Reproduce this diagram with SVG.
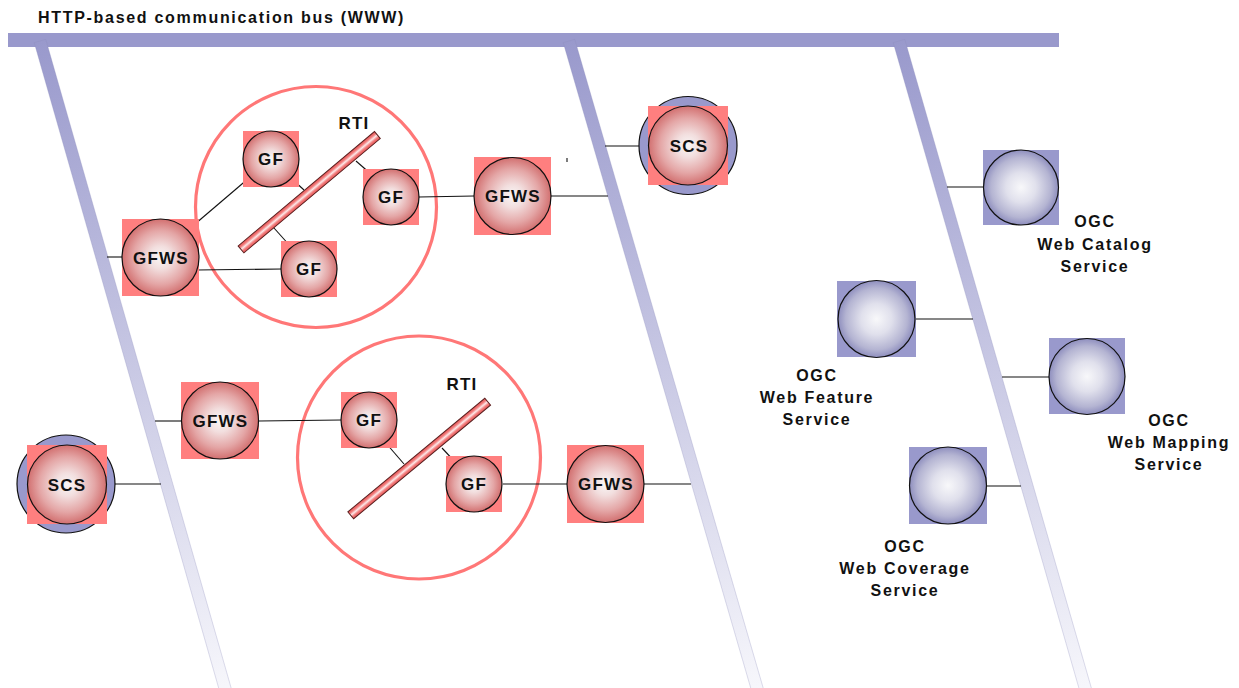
<svg xmlns="http://www.w3.org/2000/svg" width="1239" height="688" viewBox="0 0 1239 688">
  <defs>
    <style>
      text { font-family: "Liberation Sans", Arial, sans-serif; font-weight: bold; fill: #111; }
      .title { font-size: 16px; letter-spacing: 1.7px; }
      .lbl { font-size: 17px; letter-spacing: 1.2px; text-anchor: middle; }
      .cap { font-size: 16px; letter-spacing: 1.7px; text-anchor: middle; }
      .sq-red { fill: #ff7f7f; }
      .sq-blue { fill: #9999cc; }
      .ball-red { fill: url(#gRed); stroke: #111; stroke-width: 1.2; }
      .ball-blue { fill: url(#gBlue); stroke: #111; stroke-width: 1.2; }
      .halo { fill: #9999cc; stroke: #111; stroke-width: 1.2; }
      .fed { fill: none; stroke: #ff7777; stroke-width: 3.2; }
      .rti { fill: url(#gBar); stroke: #5a2020; stroke-width: 1; }
      .bus { fill: #9999cc; }
      .drop { fill: url(#gDrop); stroke: #8a8abb; stroke-opacity: 0.45; stroke-width: 0.6; }
      .wire { stroke: #111; stroke-width: 1.1; fill: none; }
    </style>
    <radialGradient id="gRed" cx="0.5" cy="0.5" r="0.5">
      <stop offset="0" stop-color="#f9f7f7"/>
      <stop offset="0.3" stop-color="#f2dede"/>
      <stop offset="0.7" stop-color="#e4a6a6"/>
      <stop offset="1" stop-color="#d27070"/>
    </radialGradient>
    <radialGradient id="gBlue" cx="0.5" cy="0.5" r="0.5">
      <stop offset="0" stop-color="#f8f8fa"/>
      <stop offset="0.4" stop-color="#e0e0ec"/>
      <stop offset="0.8" stop-color="#b4b4d2"/>
      <stop offset="1" stop-color="#8e8ebe"/>
    </radialGradient>
    <linearGradient id="gBar" x1="0" y1="0" x2="0" y2="1">
      <stop offset="0" stop-color="#e85454"/>
      <stop offset="0.25" stop-color="#f07a7a"/>
      <stop offset="0.5" stop-color="#fde8e8"/>
      <stop offset="0.75" stop-color="#f07a7a"/>
      <stop offset="1" stop-color="#e85454"/>
    </linearGradient>
    <linearGradient id="gDrop" x1="0" y1="0" x2="0" y2="1">
      <stop offset="0" stop-color="#9999cc"/>
      <stop offset="1" stop-color="#f8f8fc"/>
    </linearGradient>
  </defs>

  <rect width="1239" height="688" fill="#fff"/>

  <!-- communication bus and its three drop lines -->
  <g id="bus">
    <text class="title" x="38" y="23">HTTP-based communication bus (WWW)</text>
    <rect class="bus" x="8" y="33" width="1051" height="14"/>
    <rect class="drop" x="-6" y="0" width="12" height="685" transform="translate(40,41) rotate(-15.95)"/>
    <rect class="drop" x="-6" y="0" width="12" height="685" transform="translate(569,41) rotate(-16.2)"/>
    <rect class="drop" x="-6" y="0" width="12" height="685" transform="translate(899,41) rotate(-16.05)"/>
  </g>

  <!-- federation boundaries -->
  <g id="federation-1"><circle class="fed" cx="316" cy="207" r="120.5"/></g>
  <g id="federation-2"><circle class="fed" cx="419" cy="457.5" r="121.5"/></g>

  <!-- RTI bars -->
  <g id="rti-1">
    <rect class="rti" x="-89" y="-4.5" width="178" height="9" transform="translate(309.2,192.2) rotate(-40)"/>
    <text class="lbl" x="354" y="129">RTI</text>
  </g>
  <g id="rti-2">
    <rect class="rti" x="-89" y="-4.5" width="178" height="9" transform="translate(419.2,458.5) rotate(-39.7)"/>
    <text class="lbl" x="462" y="390">RTI</text>
  </g>

  <!-- connectors -->
  <g id="connectors">
    <line class="wire" x1="107" y1="257" x2="122" y2="257"/>
    <line class="wire" x1="188" y1="230" x2="249" y2="178"/>
    <line class="wire" x1="292" y1="179" x2="304" y2="190"/>
    <line class="wire" x1="356" y1="161" x2="372" y2="175"/>
    <line class="wire" x1="274" y1="228" x2="291" y2="247"/>
    <line class="wire" x1="197" y1="270" x2="282" y2="269"/>
    <line class="wire" x1="419" y1="197" x2="474" y2="196"/>
    <line class="wire" x1="551" y1="196" x2="608" y2="196"/>
    <line class="wire" x1="605" y1="146" x2="640" y2="146"/>
    <line class="wire" x1="567" y1="158" x2="567" y2="162"/>
    <line class="wire" x1="155" y1="421" x2="182" y2="421"/>
    <line class="wire" x1="259" y1="421" x2="341" y2="420"/>
    <line class="wire" x1="385" y1="442" x2="404" y2="464"/>
    <line class="wire" x1="442" y1="448" x2="456" y2="463"/>
    <line class="wire" x1="503" y1="484" x2="567" y2="484"/>
    <line class="wire" x1="644" y1="484" x2="691" y2="484"/>
    <line class="wire" x1="115" y1="484" x2="161" y2="484"/>
    <line class="wire" x1="947" y1="187" x2="983" y2="187"/>
    <line class="wire" x1="916" y1="319" x2="973" y2="319"/>
    <line class="wire" x1="1002" y1="377" x2="1049" y2="377"/>
    <line class="wire" x1="987" y1="486" x2="1021" y2="486"/>
  </g>

  <!-- federate nodes, upper federation -->
  <g id="gfws-1">
    <rect class="sq-red" x="122" y="219" width="77" height="77"/>
    <circle class="ball-red" cx="160.5" cy="257.5" r="38.5"/>
    <text class="lbl" x="161" y="263.5">GFWS</text>
  </g>
  <g id="gf-1a">
    <rect class="sq-red" x="243" y="131" width="56" height="56"/>
    <circle class="ball-red" cx="271" cy="159" r="28"/>
    <text class="lbl" x="271" y="165">GF</text>
  </g>
  <g id="gf-1b">
    <rect class="sq-red" x="363" y="169" width="56" height="56"/>
    <circle class="ball-red" cx="391" cy="197" r="28"/>
    <text class="lbl" x="391" y="203">GF</text>
  </g>
  <g id="gf-1c">
    <rect class="sq-red" x="281" y="241" width="56" height="56"/>
    <circle class="ball-red" cx="309" cy="269" r="28"/>
    <text class="lbl" x="309" y="275">GF</text>
  </g>
  <g id="gfws-2">
    <rect class="sq-red" x="474" y="157" width="77" height="78"/>
    <circle class="ball-red" cx="512.5" cy="196" r="38.5"/>
    <text class="lbl" x="513" y="202">GFWS</text>
  </g>
  <g id="scs-1">
    <circle class="halo" cx="688" cy="145.5" r="49"/>
    <rect class="sq-red" x="648" y="106" width="80" height="79"/>
    <circle class="ball-red" cx="688" cy="145.5" r="39.5"/>
    <text class="lbl" x="689" y="151.5">SCS</text>
  </g>

  <!-- federate nodes, lower federation -->
  <g id="scs-2">
    <circle class="halo" cx="66" cy="484" r="49"/>
    <rect class="sq-red" x="27" y="445" width="80" height="79"/>
    <circle class="ball-red" cx="67" cy="484.5" r="39.5"/>
    <text class="lbl" x="67" y="490.5">SCS</text>
  </g>
  <g id="gfws-3">
    <rect class="sq-red" x="181" y="382" width="78" height="77"/>
    <circle class="ball-red" cx="220" cy="420.5" r="38.5"/>
    <text class="lbl" x="220.5" y="426.5">GFWS</text>
  </g>
  <g id="gf-2a">
    <rect class="sq-red" x="341" y="392" width="56" height="56"/>
    <circle class="ball-red" cx="369" cy="420" r="28"/>
    <text class="lbl" x="369" y="426">GF</text>
  </g>
  <g id="gf-2b">
    <rect class="sq-red" x="446" y="456" width="56" height="56"/>
    <circle class="ball-red" cx="474" cy="484" r="28"/>
    <text class="lbl" x="474" y="490">GF</text>
  </g>
  <g id="gfws-4">
    <rect class="sq-red" x="567" y="445" width="77" height="78"/>
    <circle class="ball-red" cx="605.5" cy="484" r="38.5"/>
    <text class="lbl" x="606" y="490">GFWS</text>
  </g>

  <!-- OGC services -->
  <g id="ogc-catalog">
    <rect class="sq-blue" x="983" y="150" width="76" height="75"/>
    <circle class="ball-blue" cx="1021" cy="187.5" r="37.5"/>
    <text class="cap" x="1095" y="227">OGC</text>
    <text class="cap" x="1095" y="250">Web Catalog</text>
    <text class="cap" x="1095" y="272">Service</text>
  </g>
  <g id="ogc-feature">
    <rect class="sq-blue" x="837" y="281" width="79" height="76"/>
    <circle class="ball-blue" cx="876.5" cy="319" r="38.5"/>
    <text class="cap" x="817" y="381">OGC</text>
    <text class="cap" x="817" y="403">Web Feature</text>
    <text class="cap" x="817" y="425">Service</text>
  </g>
  <g id="ogc-mapping">
    <rect class="sq-blue" x="1049" y="338" width="76" height="76"/>
    <circle class="ball-blue" cx="1087" cy="376.5" r="38"/>
    <text class="cap" x="1169" y="426">OGC</text>
    <text class="cap" x="1169" y="448">Web Mapping</text>
    <text class="cap" x="1169" y="470">Service</text>
  </g>
  <g id="ogc-coverage">
    <rect class="sq-blue" x="909" y="447" width="78" height="77"/>
    <circle class="ball-blue" cx="948" cy="485.5" r="38.5"/>
    <text class="cap" x="905" y="552">OGC</text>
    <text class="cap" x="905" y="574">Web Coverage</text>
    <text class="cap" x="905" y="596">Service</text>
  </g>
</svg>
